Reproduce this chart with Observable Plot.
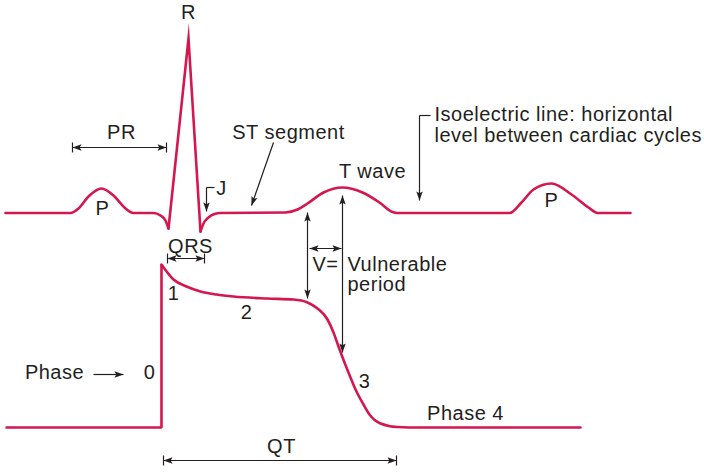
<!DOCTYPE html>
<html>
<head>
<meta charset="utf-8">
<script src="https://cdn.jsdelivr.net/npm/d3@7"></script>
<script src="https://cdn.jsdelivr.net/npm/@observablehq/plot@0.6"></script>
<style>
  html, body { margin: 0; padding: 0; background: #fff; }
</style>
</head>
<body>
<div id="chart"></div>
<script>
// ---- ECG trace (diagram units: x = time position, y = level, larger y drawn lower) ----
// lead-in: baseline, P wave, Q dip
const ecgLeadX = [5, 70, 78, 88, 101, 113, 124, 133, 153, 160, 165, 168];
const ecgLeadY = [212.5, 212.5, 208, 196, 188, 195, 207, 212.5, 212.5, 215, 220, 228];
// QRS spike (sharp)
const qrsX = [168, 188, 200];
const qrsY = [228, 38, 231];
// after S: J, ST segment, T wave, baseline, next P wave
const ecgTailX = [200, 203, 208, 214, 220, 285, 297, 307, 323, 342, 362, 379, 392, 397, 509, 521, 533, 551, 571, 588, 597, 630];
const ecgTailY = [231, 223, 217, 213.5, 212.5, 212, 209, 203, 192, 187, 192, 202, 211.5, 212.5, 212.5, 202, 189, 183, 194, 207, 212.5, 212.5];

// ---- Action potential ----
const apRestX = [5, 161, 161];
const apRestY = [427, 427, 264];
const apCurveX = [161, 173, 186, 200, 216, 233, 267, 293, 307, 317, 327, 333, 338, 344, 350, 356, 363, 369, 380, 397, 420, 580];
const apCurveY = [264, 279, 286, 291, 294, 296, 298, 299, 302, 308, 319, 332, 346, 362, 377, 391, 404, 414, 423, 426.5, 427, 427];

// ---- Annotation arrows ----
const arrowName  = ["PR", "QRS", "QT", "ST", "Phase", "Vstart", "Vend", "Vwidth", "Jh", "Jv", "Isoh", "Isov"];
const arrowX1    = [72, 167, 163, 273, 93, 307, 342, 309, 214, 206, 430, 419];
const arrowY1    = [147, 258, 460, 142, 374, 212, 195, 248, 187, 187, 115, 115];
const arrowX2    = [166, 204, 396, 251, 123, 307, 342, 341, 206, 206, 419, 419];
const arrowY2    = [147, 258, 460, 205, 374, 298, 352, 248, 187, 211, 115, 200];
const arrowHeads = ["both", "both", "both", "end", "end", "both", "both", "both", "none", "end", "none", "end"];
const arrowBars  = [true, true, true, false, false, false, false, false, false, false, false, false];

// ---- Text labels ----
const labelText = ["R", "PR", "ST segment", "J", "T wave", "Isoelectric line: horizontal", "level between cardiac cycles",
  "P", "P", "QRS", "V=", "Vulnerable", "period", "1", "2", "3", "Phase 4", "Phase", "0", "QT"];
const labelX = [188, 121, 288, 221, 372, 434, 434, 102, 551, 190, 325, 347, 347, 173, 246, 364, 465, 54, 149, 281];
const labelY = [12, 132, 132, 188, 171, 114, 135.5, 208.5, 200.5, 246, 264, 264, 284.5, 293, 312.5, 381.5, 413.5, 372.5, 372.5, 446];
const labelAnchor = ["middle", "middle", "middle", "middle", "middle", "start", "start", "middle", "middle", "middle",
  "middle", "start", "start", "middle", "middle", "middle", "middle", "middle", "middle", "middle"];

// ---- build tables ----
const zip = (xs, ys) => xs.map((x, i) => ({x, y: ys[i]}));
const ecgLead = zip(ecgLeadX, ecgLeadY);
const qrs = zip(qrsX, qrsY);
const ecgTail = zip(ecgTailX, ecgTailY);
const apRest = zip(apRestX, apRestY);
const apCurve = zip(apCurveX, apCurveY);

const arrows = arrowName.map((name, i) => ({
  name, x1: arrowX1[i], y1: arrowY1[i], x2: arrowX2[i], y2: arrowY2[i], heads: arrowHeads[i], bars: arrowBars[i]
}));
const ends = [];
for (const a of arrows) {
  const ang = Math.atan2(a.y2 - a.y1, a.x2 - a.x1) * 180 / Math.PI;
  if (a.heads === "both" || a.heads === "end") ends.push({kind: "head", x: a.x2, y: a.y2, rot: ang + 90});
  if (a.heads === "both") ends.push({kind: "head", x: a.x1, y: a.y1, rot: ang - 90});
  if (a.bars) {
    ends.push({kind: "bar", x: a.x1, y: a.y1, rot: ang + 90});
    ends.push({kind: "bar", x: a.x2, y: a.y2, rot: ang + 90});
  }
}
const labels = labelText.map((t, i) => ({t, x: labelX[i], y: labelY[i], anchor: labelAnchor[i]}));

// custom symbols: tip at origin, pointing "up" before rotation
const arrowHead = {draw(ctx) { ctx.moveTo(0, 0); ctx.lineTo(3.2, 9); ctx.lineTo(0, 7.2); ctx.lineTo(-3.2, 9); ctx.closePath(); }};
const endBar = {draw(ctx) { ctx.moveTo(-5, 0); ctx.lineTo(5, 0); }};

const red = "#d4174e";
const ink = "#231f20";
const font = "'Liberation Sans', Arial, Helvetica, sans-serif";

const chart = Plot.plot({
  width: 704,
  height: 472,
  margin: 0,
  x: {domain: [0, 704], axis: null},
  y: {domain: [472, 0], axis: null},
  style: {background: "#fff", fontFamily: font, letterSpacing: "0.5px", overflow: "visible"},
  marks: [
    // ECG
    Plot.line(ecgLead, {x: "x", y: "y", curve: "monotone-x", stroke: red, strokeWidth: 2.6}),
    Plot.line(qrs, {x: "x", y: "y", curve: "linear", stroke: red, strokeWidth: 2.6, strokeLinejoin: "miter", strokeMiterlimit: 20}),
    Plot.line(ecgTail, {x: "x", y: "y", curve: "monotone-x", stroke: red, strokeWidth: 2.6}),
    // action potential
    Plot.line(apRest, {x: "x", y: "y", curve: "linear", stroke: red, strokeWidth: 2.6, strokeLinejoin: "miter", strokeLinecap: "butt"}),
    Plot.line(apCurve, {x: "x", y: "y", curve: "monotone-x", stroke: red, strokeWidth: 2.6}),
    // annotation lines
    Plot.link(arrows, {x1: "x1", y1: "y1", x2: "x2", y2: "y2", stroke: ink, strokeWidth: 1.2, strokeLinecap: "butt"}),
    Plot.dot(ends.filter(d => d.kind === "head"), {x: "x", y: "y", rotate: "rot", symbol: arrowHead, r: 4, fill: ink, stroke: "none"}),
    Plot.dot(ends.filter(d => d.kind === "bar"), {x: "x", y: "y", rotate: "rot", symbol: endBar, r: 4, fill: "none", stroke: ink, strokeWidth: 1.2}),
    // labels
    Plot.text(labels.filter(d => d.anchor === "middle"), {x: "x", y: "y", text: "t", textAnchor: "middle", fill: ink, fontSize: 20, fontFamily: font}),
    Plot.text(labels.filter(d => d.anchor === "start"), {x: "x", y: "y", text: "t", textAnchor: "start", fill: ink, fontSize: 20, fontFamily: font})
  ]
});
document.getElementById("chart").appendChild(chart);
</script>
</body>
</html>
